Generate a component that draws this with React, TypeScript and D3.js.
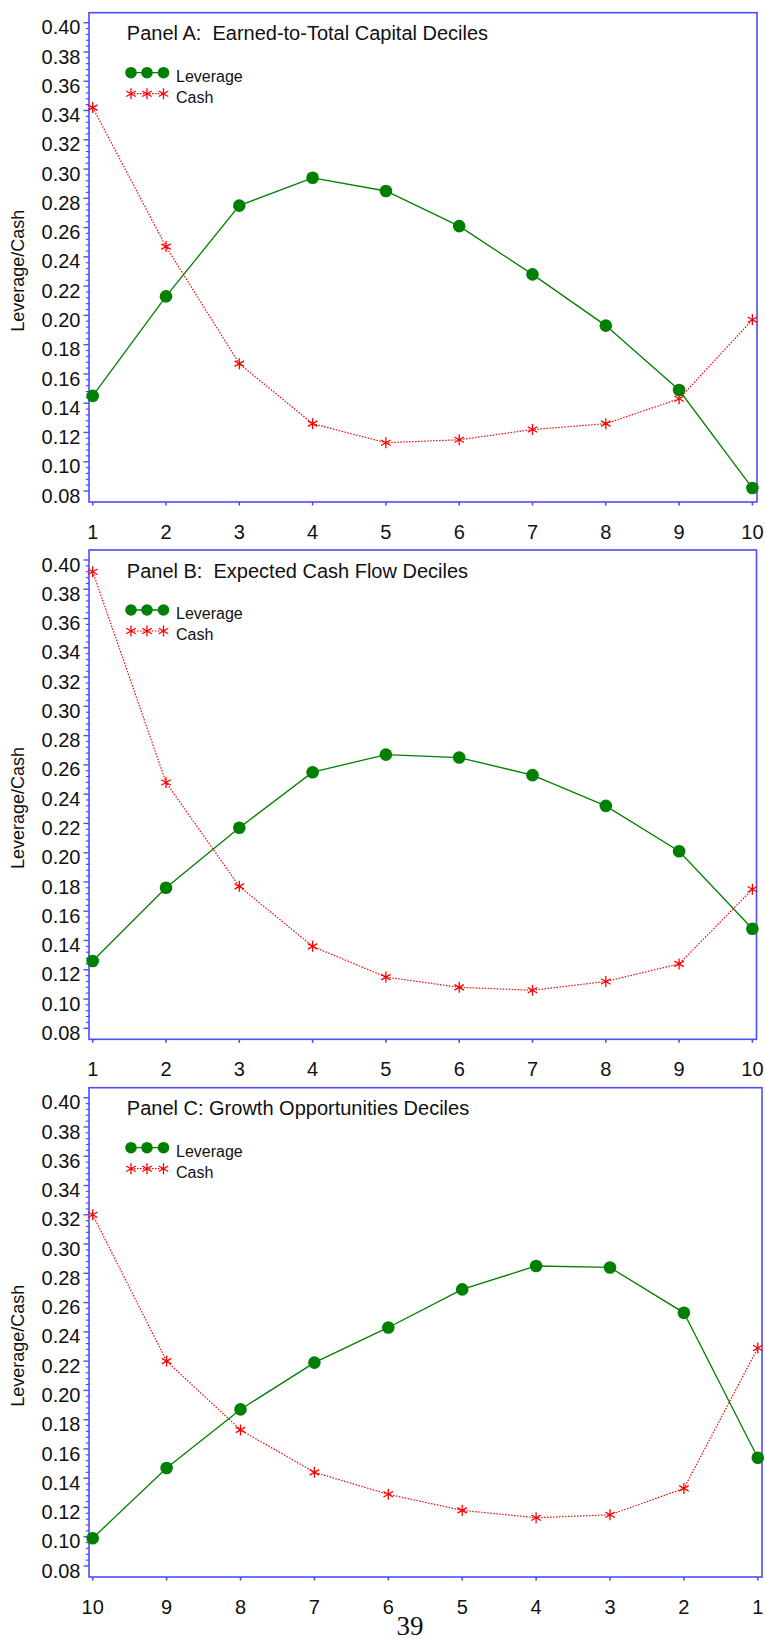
import React from 'react';
import * as d3 from 'd3';

// decile labels along the x axis
const decilesAB = ['1', '2', '3', '4', '5', '6', '7', '8', '9', '10'];
const decilesC = ['10', '9', '8', '7', '6', '5', '4', '3', '2', '1'];

// Panel A: earned-to-total capital deciles
const leverageA = [0.145, 0.213, 0.275, 0.294, 0.285, 0.261, 0.228, 0.193, 0.149, 0.082];
const cashA = [0.342, 0.247, 0.167, 0.126, 0.113, 0.115, 0.122, 0.126, 0.143, 0.197];

// Panel B: expected cash flow deciles
const leverageB = [0.126, 0.176, 0.217, 0.255, 0.267, 0.265, 0.253, 0.232, 0.201, 0.148];
const cashB = [0.392, 0.248, 0.177, 0.136, 0.115, 0.108, 0.106, 0.112, 0.124, 0.175];

// Panel C: growth opportunities deciles (reversed order)
const leverageC = [0.099, 0.147, 0.187, 0.219, 0.243, 0.269, 0.285, 0.284, 0.253, 0.154];
const cashC = [0.320, 0.220, 0.173, 0.144, 0.129, 0.118, 0.113, 0.115, 0.133, 0.229];

const yTicks = [0.08, 0.1, 0.12, 0.14, 0.16, 0.18, 0.2, 0.22, 0.24, 0.26, 0.28, 0.3, 0.32, 0.34, 0.36, 0.38, 0.4];
const titles = [
  'Panel A:  Earned-to-Total Capital Deciles',
  'Panel B:  Expected Cash Flow Deciles',
  'Panel C: Growth Opportunities Deciles',
];
const seriesNames = ['Leverage', 'Cash'];
const pageNumber = '39';

const W = 765;
const H = 1642;
const FONT = '"Liberation Sans", Arial, Helvetica, sans-serif';
const AXIS = '#4d4dff';
const GREEN = '#008000';
const RED = '#ff0000';

const panels = [
  { top: 12.7, right: 757, xEnd: 752.4, cats: decilesAB, lev: leverageA, cash: cashA, title: titles[0] },
  { top: 550, right: 756.5, xEnd: 752.4, cats: decilesAB, lev: leverageB, cash: cashB, title: titles[1] },
  { top: 1087.7, right: 762, xEnd: 757.8, cats: decilesC, lev: leverageC, cash: cashC, title: titles[2] },
];

const LEFT = 89;
const X0 = 92.7;

const star = (s: number) => {
  const c = s * Math.cos(Math.PI / 6);
  const h = s * Math.sin(Math.PI / 6);
  return `M0,${-s}L0,${s}M${-c},${-h}L${c},${h}M${-c},${h}L${c},${-h}`;
};

const Panel = ({ p }: { p: (typeof panels)[number] }) => {
  const bottom = p.top + 489.3;
  const x = d3.scalePoint<string>().domain(p.cats).range([X0, p.xEnd]);
  const y = d3.scaleLinear().domain([0.08, 0.4]).range([p.top + 478.3, p.top + 10]);

  // four minor ticks between each pair of labelled ticks
  const minor: number[] = [];
  for (let i = 0; i < yTicks.length - 1; i++) {
    const a = yTicks[i];
    const b = yTicks[i + 1];
    for (let k = 1; k < 5; k++) minor.push(a + ((b - a) * k) / 5);
  }

  const line = d3
    .line<number>()
    .x((_, i) => x(p.cats[i]) as number)
    .y((d) => y(d));

  const legX = [131, 147, 163.5];
  const levY = p.top + 60;
  const cashY = p.top + 81;

  return (
    <g>
      {/* frame */}
      <rect x={LEFT} y={p.top} width={p.right - LEFT} height={bottom - p.top} fill="none" stroke={AXIS} strokeWidth={1.6} />

      {/* y axis */}
      {yTicks.map((t) => (
        <g key={t}>
          <line x1={LEFT - 5.5} x2={LEFT} y1={y(t)} y2={y(t)} stroke={AXIS} strokeWidth={1.4} />
          <text x={80.5} y={y(t) + 11.6} textAnchor="end" fontSize={20} fontFamily={FONT} fill="#111">
            {t.toFixed(2)}
          </text>
        </g>
      ))}
      {minor.map((t, i) => (
        <line key={i} x1={LEFT - 3.2} x2={LEFT} y1={y(t)} y2={y(t)} stroke={AXIS} strokeWidth={1.2} />
      ))}
      <text
        transform={`translate(24,${p.top + 258}) rotate(-90)`}
        textAnchor="middle"
        fontSize={18}
        fontFamily={FONT}
        fill="#111"
      >
        Leverage/Cash
      </text>

      {/* x axis */}
      {p.cats.map((c) => (
        <g key={c}>
          <line x1={x(c)} x2={x(c)} y1={bottom} y2={bottom + 3.5} stroke={AXIS} strokeWidth={1.6} />
          <text x={x(c)} y={bottom + 36.5} textAnchor="middle" fontSize={20} fontFamily={FONT} fill="#111">
            {c}
          </text>
        </g>
      ))}

      {/* title */}
      <text x={126.8} y={p.top + 27.5} fontSize={20} fontFamily={FONT} fill="#111" style={{ whiteSpace: 'pre' }}>
        {p.title}
      </text>

      {/* legend */}
      <line x1={legX[0]} x2={legX[2]} y1={levY} y2={levY} stroke={GREEN} strokeWidth={1.3} />
      {legX.map((lx) => (
        <circle key={lx} cx={lx} cy={levY} r={5.8} fill={GREEN} />
      ))}
      <text x={176} y={p.top + 69} fontSize={16} fontFamily={FONT} fill="#111">
        {seriesNames[0]}
      </text>
      <line x1={legX[0]} x2={legX[2]} y1={cashY} y2={cashY} stroke={RED} strokeWidth={1.2} strokeDasharray="1.5,1.5" />
      {legX.map((lx) => (
        <path key={lx} d={star(5.5)} transform={`translate(${lx},${cashY})`} stroke={RED} strokeWidth={1.3} fill="none" />
      ))}
      <text x={176} y={p.top + 90} fontSize={16} fontFamily={FONT} fill="#111">
        {seriesNames[1]}
      </text>

      {/* cash series */}
      <path d={line(p.cash) ?? ''} fill="none" stroke={RED} strokeWidth={1.2} strokeDasharray="1.5,1.5" />
      {p.cash.map((v, i) => (
        <path
          key={i}
          d={star(5.5)}
          transform={`translate(${x(p.cats[i])},${y(v)})`}
          stroke={RED}
          strokeWidth={1.3}
          fill="none"
        />
      ))}

      {/* leverage series */}
      <path d={line(p.lev) ?? ''} fill="none" stroke={GREEN} strokeWidth={1.3} />
      {p.lev.map((v, i) => (
        <circle key={i} cx={x(p.cats[i])} cy={y(v)} r={6.3} fill={GREEN} />
      ))}
    </g>
  );
};

export default function App() {
  return (
    <svg
      width={W}
      height={H}
      viewBox={`0 0 ${W} ${H}`}
      style={{ position: 'absolute', left: 0, top: 0, background: '#fff' }}
    >
      <rect width={W} height={H} fill="#fff" />
      {panels.map((p, i) => (
        <Panel key={i} p={p} />
      ))}
      <text x={410} y={1635} textAnchor="middle" fontSize={27} fontFamily='"Liberation Serif", "DejaVu Serif", serif' fill="#111">
        {pageNumber}
      </text>
    </svg>
  );
}
